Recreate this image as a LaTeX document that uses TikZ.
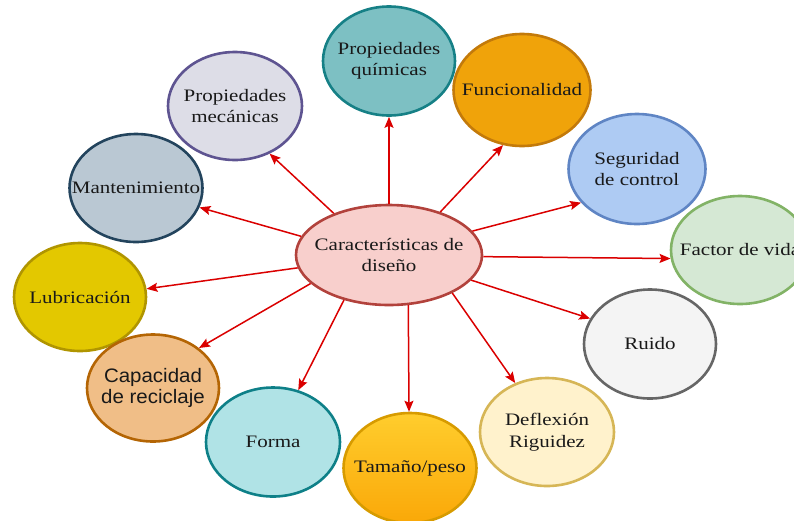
\documentclass[tikz,border=0pt]{standalone}
\usepackage{fontspec}
\setmainfont[FakeStretch=1.2]{Liberation Serif}
\newfontfamily\labelsans[FakeStretch=1.05]{Liberation Sans}
\usetikzlibrary{shapes.geometric,arrows.meta}

% border / fill pairs of the bubbles
\definecolor{coreD}{RGB}{178,66,60}     \definecolor{coreF}{RGB}{248,207,204}
\definecolor{quimD}{RGB}{22,128,134}    \definecolor{quimF}{RGB}{125,192,195}
\definecolor{mecD}{RGB}{94,84,145}      \definecolor{mecF}{RGB}{221,221,231}
\definecolor{funcD}{RGB}{195,122,10}    \definecolor{funcF}{RGB}{240,163,10}
\definecolor{segD}{RGB}{95,133,196}     \definecolor{segF}{RGB}{174,203,243}
\definecolor{vidaD}{RGB}{130,179,102}   \definecolor{vidaF}{RGB}{213,232,212}
\definecolor{ruiD}{RGB}{102,102,102}    \definecolor{ruiF}{RGB}{244,244,244}
\definecolor{defD}{RGB}{214,182,86}     \definecolor{defF}{RGB}{255,242,204}
\definecolor{tamD}{RGB}{215,155,0}      \definecolor{tamT}{RGB}{255,205,45}   \definecolor{tamB}{RGB}{250,168,8}
\definecolor{forD}{RGB}{14,128,136}     \definecolor{forF}{RGB}{176,227,230}
\definecolor{recD}{RGB}{180,101,4}      \definecolor{recF}{RGB}{240,190,135}
\definecolor{lubD}{RGB}{176,149,0}      \definecolor{lubF}{RGB}{227,200,0}
\definecolor{manD}{RGB}{35,68,93}       \definecolor{manF}{RGB}{186,200,211}
\definecolor{arrowred}{RGB}{218,0,0}
\definecolor{ink}{RGB}{25,25,25}

\tikzset{
  bubble/.style={ellipse, inner sep=0pt, line width=2.6pt},
  txt/.style={align=center, text=ink, inner sep=0pt,
              font=\fontsize{17.5}{21.5}\selectfont},
  txtsans/.style={align=center, text=ink, inner sep=0pt,
              font=\labelsans\fontsize{19.5}{20.5}\selectfont},
  arr/.style={draw=arrowred, line width=1.5pt,
              -{Stealth[length=11pt,width=9pt,inset=2pt]}}
}

\begin{document}
\begin{tikzpicture}[x=1pt,y=-1pt]
\useasboundingbox (0,0) rectangle (794,520);
\clip (0,0) rectangle (794,520);

% centre
\node[bubble, draw=coreD, fill=coreF, minimum width=186pt, minimum height=100pt] (c) at (389,255) {};
\node[txt] (cT) at (c) {Características de\\diseño};

% surrounding bubbles (lower-left ones first so the later ones overlap them)
\node[bubble, draw=lubD, fill=lubF, minimum width=132pt, minimum height=108pt] (lub) at (80,297) {};
\node[txt] (lubT) at (lub) {Lubricación};

\node[bubble, draw=recD, fill=recF, minimum width=132pt, minimum height=107pt] (rec) at (153,388) {};
\node[txtsans] (recT) at (rec) {Capacidad\\de reciclaje};

\node[bubble, draw=forD, fill=forF, minimum width=134pt, minimum height=109pt] (for) at (273,442) {};
\node[txt] (forT) at (for) {Forma};

\node[bubble, draw=tamD, top color=tamT, bottom color=tamB, minimum width=133pt, minimum height=110pt] (tam) at (410,468) {};
\node[txt] (tamT) at (tam) {Tamaño/peso};

\node[bubble, draw=defD, fill=defF, minimum width=134pt, minimum height=108pt] (def) at (547,432) {};
\node[txt] (defT) at (def) {Deflexión\\Riguidez};

\node[bubble, draw=ruiD, fill=ruiF, minimum width=132pt, minimum height=109pt] (rui) at (650,344) {};
\node[txt] (ruiT) at (rui) {Ruido};

\node[bubble, draw=vidaD, fill=vidaF, minimum width=138pt, minimum height=108pt] (vida) at (740,250) {};
\node[txt] (vidaT) at (vida) {Factor de vida};

\node[bubble, draw=segD, fill=segF, minimum width=137pt, minimum height=110pt] (seg) at (637,169) {};
\node[txt] (segT) at (seg) {Seguridad\\de control};

\node[bubble, draw=funcD, fill=funcF, minimum width=137pt, minimum height=112pt] (func) at (522,90) {};
\node[txt] (funcT) at (func) {Funcionalidad};

\node[bubble, draw=quimD, fill=quimF, minimum width=132pt, minimum height=109pt] (quim) at (389,61) {};
\node[txt] (quimT) at (quim) {Propiedades\\químicas};

\node[bubble, draw=mecD, fill=mecF, minimum width=134pt, minimum height=108pt] (mec) at (235,106) {};
\node[txt] (mecT) at (mec) {Propiedades\\mecánicas};

\node[bubble, draw=manD, fill=manF, minimum width=133pt, minimum height=108pt] (man) at (136,188) {};
\node[txt] (manT) at (man) {Mantenimiento};

% connectors from the centre
\draw[arr] (c.90)    -- (quim.270);
\draw[arr] (c.143)   -- (mec.306);
\draw[arr] (c.40)    -- (func.251);
\draw[arr] (c.16)    -- (seg.211);
\draw[arr] (c.-1)    -- (vida.187);
\draw[arr] (c.-17)   -- (rui.157);
\draw[arr] (c.-31)   -- (def.123);
\draw[arr] (c.-69)   -- (tam.91);
\draw[arr] (c.-135)  -- (for.64);
\draw[arr] (c.-160)  -- (rec.41);
\draw[arr] (c.188)   -- (lub.7);
\draw[arr] (c.168)   -- (man.-17);
\end{tikzpicture}
\end{document}
